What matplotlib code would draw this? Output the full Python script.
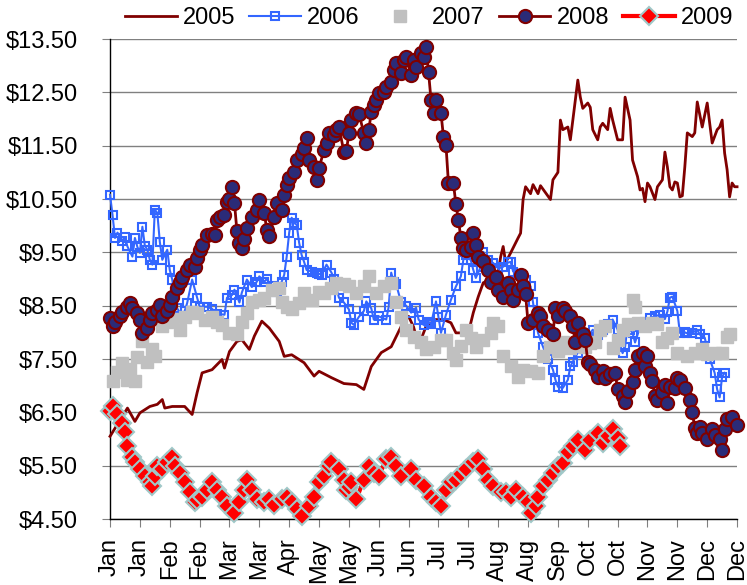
import matplotlib
matplotlib.use("Agg")
import matplotlib.pyplot as plt

plt.rcParams['font.family'] = ['Liberation Sans', 'DejaVu Sans']

# x axis = trading day of the year, a labelled tick every 12 days
month_labels = ["Jan", "Jan", "Feb", "Feb", "Mar", "Mar", "Apr", "May", "May", "Jun", "Jun",
                "Jul", "Jul", "Aug", "Aug", "Sep", "Oct", "Oct", "Nov", "Nov", "Dec", "Dec"]
price_ticks = [4.5, 5.5, 6.5, 7.5, 8.5, 9.5, 10.5, 11.5, 12.5, 13.5]

days_2005 = [0, 7, 10, 12, 16, 19, 21, 22, 25, 30, 33, 35, 37, 41, 45, 46, 48, 51, 53, 56, 58, 61, 64,
             68, 70, 73, 78, 82, 84, 89, 94, 99, 102, 105, 109, 113, 117, 120, 122, 124, 127, 131, 134,
             137, 139, 144, 145, 146, 148, 149, 150, 153, 156, 157, 158, 159, 161, 164, 165, 166, 167,
             169, 170, 172, 173, 175, 177, 178, 180, 181, 182, 184, 185, 186, 188, 189, 190, 192, 193,
             194, 196, 197, 198, 200, 201, 202, 204, 206, 207, 209, 210, 212, 213, 214, 215, 216, 217,
             219, 220, 222, 223, 224, 225, 226, 227, 228, 229, 230, 231, 232, 234, 235, 236, 238, 240,
             241, 242, 244, 245, 246, 247, 248, 249, 250, 251, 252]
price_2005 = [6.05, 6.58, 6.33, 6.49, 6.61, 6.65, 6.74, 6.58, 6.61, 6.61, 6.46, 6.87, 7.24, 7.30, 7.49,
              7.33, 7.64, 7.83, 7.86, 7.68, 7.93, 8.21, 8.08, 7.83, 7.55, 7.58, 7.43, 7.18, 7.27, 7.15,
              7.04, 7.02, 6.93, 7.36, 7.62, 7.73, 8.11, 8.30, 8.10, 7.75, 8.11, 8.24, 8.24, 8.18, 7.99,
              7.99, 8.18, 8.37, 8.67, 8.80, 8.93, 8.99, 9.12, 9.42, 9.61, 9.31, 9.49, 9.77, 9.86, 10.49,
              10.73, 10.60, 10.77, 10.60, 10.75, 10.62, 10.49, 10.86, 11.00, 11.98, 11.80, 11.85, 11.61,
              11.98, 12.73, 12.41, 12.20, 12.30, 12.22, 11.80, 11.61, 11.85, 11.92, 11.80, 12.20, 11.98,
              11.61, 11.61, 12.41, 11.98, 11.23, 10.92, 10.67, 10.70, 10.45, 10.80, 10.73, 10.49, 10.73,
              10.86, 11.38, 11.10, 10.73, 10.67, 10.82, 10.80, 10.54, 10.56, 11.10, 11.74, 11.67, 11.74,
              12.32, 11.85, 12.30, 11.92, 11.55, 11.80, 11.85, 11.98, 11.36, 11.05, 10.54, 10.80, 10.73,
              10.73]

days_2006 = [0, 1, 2, 3, 5, 6, 7, 9, 10, 11, 12, 13, 14, 15, 16, 17, 18, 19, 20, 21, 23, 24, 25, 26,
             27, 29, 30, 31, 33, 35, 36, 39, 41, 43, 46, 47, 49, 50, 52, 53, 55, 57, 59, 60, 62, 63, 65,
             67, 69, 70, 71, 72, 73, 74, 75, 76, 77, 78, 79, 81, 83, 84, 85, 87, 89, 90, 92, 94, 96, 97,
             98, 100, 102, 103, 105, 106, 108, 111, 112, 113, 114, 115, 117, 119, 121, 123, 124, 126,
             128, 129, 131, 132, 133, 135, 137, 139, 141, 142, 143, 145, 146, 147, 149, 150, 152, 154,
             156, 158, 160, 161, 162, 164, 166, 167, 169, 170, 171, 172, 174, 176, 178, 179, 180, 182,
             184, 185, 186, 188, 190, 192, 194, 196, 198, 200, 202, 204, 205, 206, 207, 208, 209, 210,
             211, 213, 215, 217, 219, 221, 223, 224, 225, 226, 228, 229, 231, 232, 234, 236, 237, 239,
             241, 243, 244, 245, 246, 247]
price_2006 = [10.58, 10.20, 9.77, 9.87, 9.72, 9.78, 9.61, 9.42, 9.77, 9.60, 9.49, 9.98, 9.62, 9.55,
              9.36, 9.27, 10.30, 10.24, 9.70, 9.36, 9.55, 9.17, 8.99, 8.70, 8.45, 8.30, 8.40, 8.55, 8.99,
              8.65, 8.48, 8.48, 8.44, 8.35, 8.33, 8.65, 8.70, 8.80, 8.56, 8.75, 8.99, 8.85, 8.95, 9.05,
              8.95, 9.00, 8.86, 8.75, 8.95, 9.08, 9.42, 9.87, 10.15, 10.05, 10.02, 9.68, 9.45, 9.32,
              9.17, 9.14, 9.12, 9.10, 9.08, 9.27, 9.12, 9.00, 8.65, 8.56, 8.43, 8.18, 8.14, 8.29, 8.40,
              8.58, 8.45, 8.24, 8.30, 8.24, 8.48, 9.12, 8.95, 8.90, 8.56, 8.50, 8.37, 8.46, 8.24, 8.14,
              8.20, 8.15, 8.58, 8.29, 7.99, 8.33, 8.61, 8.86, 9.05, 9.36, 9.45, 9.35, 9.17, 9.02, 9.23,
              9.51, 9.35, 9.30, 9.20, 9.23, 9.31, 9.32, 9.14, 9.10, 9.05, 8.99, 8.86, 8.56, 8.24, 7.99,
              7.73, 7.50, 7.30, 7.11, 6.98, 6.96, 7.11, 7.36, 7.45, 7.62, 7.80, 7.92, 8.05, 7.95, 8.05,
              8.15, 8.24, 8.05, 7.75, 7.61, 7.73, 8.11, 8.05, 7.99, 7.81, 8.10, 8.20, 8.27, 8.30, 8.33,
              8.25, 8.39, 8.65, 8.67, 8.40, 7.99, 8.00, 7.98, 7.99, 8.05, 7.96, 7.90, 7.50, 7.24, 6.93,
              6.78, 7.17, 7.24]

days_2007 = [1, 3, 5, 7, 8, 10, 11, 13, 15, 17, 18, 21, 23, 25, 28, 30, 33, 35, 38, 41, 43, 45, 48,
             51, 53, 55, 57, 60, 62, 65, 68, 69, 71, 73, 76, 78, 81, 84, 86, 89, 91, 94, 96, 99, 102,
             104, 107, 110, 113, 115, 117, 119, 122, 125, 127, 130, 133, 135, 138, 139, 141, 143, 145,
             147, 150, 153, 154, 156, 158, 161, 164, 166, 169, 172, 174, 177, 180, 182, 185, 188, 191,
             193, 195, 197, 199, 202, 204, 206, 208, 210, 211, 212, 215, 218, 220, 222, 224, 226, 228,
             232, 235, 238, 240, 243, 246, 248, 249]
price_2007 = [7.08, 7.25, 7.43, 7.11, 7.32, 7.08, 7.53, 7.83, 7.45, 7.68, 7.55, 8.11, 8.20, 8.25,
              8.05, 8.29, 8.39, 8.37, 8.24, 8.28, 8.20, 8.14, 7.99, 7.96, 8.20, 8.37, 8.56, 8.61, 8.65,
              8.80, 8.83, 8.56, 8.48, 8.43, 8.55, 8.74, 8.61, 8.76, 8.74, 8.83, 8.93, 8.90, 8.86, 8.74,
              8.86, 9.05, 8.74, 8.86, 8.93, 8.56, 8.29, 8.05, 7.92, 7.81, 7.68, 7.73, 7.86, 7.86, 7.62,
              7.49, 7.75, 8.05, 7.90, 7.73, 7.86, 7.99, 8.18, 8.11, 7.55, 7.36, 7.17, 7.30, 7.28, 7.24,
              7.55, 7.73, 7.65, 7.81, 7.70, 7.75, 7.73, 7.80, 7.81, 8.05, 8.11, 7.71, 7.86, 8.05, 8.15,
              8.61, 8.48, 8.18, 8.11, 8.18, 8.15, 7.81, 7.90, 7.99, 7.62, 7.55, 7.62, 7.68, 7.60, 7.62,
              7.62, 7.92, 7.96]

days_2008 = [0, 1, 2, 4, 5, 7, 8, 9, 11, 12, 13, 15, 16, 17, 19, 20, 21, 23, 24, 25, 27, 28, 29, 31,
             32, 34, 35, 36, 37, 39, 41, 42, 43, 44, 46, 47, 48, 49, 50, 51, 52, 53, 54, 55, 57, 59, 60,
             62, 63, 64, 66, 67, 69, 70, 71, 72, 74, 75, 77, 78, 79, 80, 82, 83, 84, 86, 87, 88, 90, 91,
             92, 94, 95, 96, 97, 99, 100, 102, 103, 104, 105, 106, 107, 108, 110, 111, 113, 114, 115,
             117, 118, 119, 121, 122, 123, 125, 126, 127, 128, 129, 130, 131, 133, 134, 135, 136, 138,
             139, 140, 141, 142, 143, 145, 146, 147, 148, 150, 152, 153, 155, 156, 158, 160, 161, 162,
             164, 165, 166, 167, 168, 170, 172, 173, 174, 176, 178, 179, 180, 182, 183, 185, 186, 187,
             188, 190, 191, 192, 193, 195, 196, 198, 199, 201, 203, 204, 206, 207, 208, 210, 211, 212,
             214, 215, 216, 217, 218, 219, 220, 222, 223, 224, 225, 227, 228, 229, 231, 233, 234, 235,
             236, 237, 238, 240, 242, 243, 245, 246, 247, 248, 250, 252]
price_2008 = [8.27, 8.11, 8.20, 8.30, 8.39, 8.48, 8.55, 8.46, 8.37, 8.24, 7.99, 8.08, 8.24, 8.37,
              8.42, 8.52, 8.30, 8.40, 8.52, 8.67, 8.84, 8.95, 9.04, 9.17, 9.27, 9.23, 9.40, 9.55, 9.64,
              9.83, 9.85, 9.83, 10.11, 10.17, 10.20, 10.45, 10.50, 10.73, 10.43, 9.90, 9.68, 9.59, 9.75,
              9.96, 10.17, 10.30, 10.49, 10.24, 9.92, 9.80, 10.17, 10.43, 10.30, 10.58, 10.77, 10.90,
              11.01, 11.23, 11.35, 11.46, 11.64, 11.23, 11.10, 10.86, 11.08, 11.42, 11.55, 11.74, 11.70,
              11.80, 11.85, 11.38, 11.40, 11.74, 11.98, 12.11, 12.10, 11.74, 11.55, 11.80, 12.13, 12.26,
              12.36, 12.49, 12.51, 12.60, 12.70, 12.92, 13.05, 12.86, 13.10, 13.16, 12.83, 13.11, 12.98,
              13.24, 13.16, 13.35, 12.88, 12.36, 12.11, 12.36, 12.11, 11.67, 11.52, 10.80, 10.80, 10.40,
              10.11, 9.77, 9.58, 9.55, 9.60, 9.86, 9.64, 9.42, 9.33, 9.17, 8.95, 9.04, 8.80, 8.67, 8.93,
              8.80, 8.61, 8.80, 9.08, 8.86, 8.71, 8.18, 8.24, 8.37, 8.30, 8.11, 8.05, 7.96, 8.46, 8.30,
              8.46, 8.40, 8.30, 8.11, 7.81, 8.18, 7.96, 7.86, 7.45, 7.40, 7.30, 7.17, 7.27, 7.15, 7.22,
              7.24, 6.93, 6.80, 6.70, 6.90, 7.06, 7.30, 7.55, 7.62, 7.36, 7.55, 7.24, 7.08, 6.80, 6.74,
              6.89, 7.02, 6.68, 6.98, 6.96, 7.15, 7.11, 6.96, 6.74, 6.50, 6.21, 6.12, 6.23, 6.12, 6.00,
              6.18, 6.08, 6.00, 5.80, 6.18, 6.37, 6.42, 6.27]

days_2009 = [0, 1, 3, 5, 6, 7, 9, 10, 12, 14, 16, 17, 18, 19, 21, 23, 25, 26, 28, 30, 32, 34, 35, 37,
             39, 41, 43, 45, 47, 50, 52, 54, 55, 57, 59, 62, 64, 66, 69, 71, 73, 75, 77, 80, 82, 84, 86,
             88, 89, 92, 94, 95, 96, 97, 99, 102, 104, 106, 108, 111, 113, 115, 117, 121, 123, 126, 129,
             131, 133, 135, 137, 139, 141, 143, 146, 148, 150, 152, 154, 157, 159, 161, 163, 166, 168,
             169, 171, 172, 174, 176, 178, 180, 182, 184, 186, 188, 191, 193, 196, 198, 200, 202, 204,
             205]
price_2009 = [6.52, 6.61, 6.46, 6.30, 6.14, 5.86, 5.67, 5.56, 5.43, 5.30, 5.20, 5.11, 5.30, 5.49,
              5.43, 5.56, 5.67, 5.49, 5.37, 5.19, 5.00, 4.81, 4.86, 4.92, 5.05, 5.19, 5.05, 4.92, 4.74,
              4.62, 4.81, 5.05, 5.24, 5.05, 4.87, 4.82, 4.87, 4.77, 4.87, 4.92, 4.81, 4.68, 4.55, 4.74,
              4.92, 5.19, 5.30, 5.49, 5.56, 5.43, 5.24, 5.05, 5.10, 5.19, 4.87, 5.24, 5.49, 5.37, 5.30,
              5.62, 5.67, 5.49, 5.30, 5.43, 5.24, 5.11, 4.92, 4.81, 4.74, 5.05, 5.19, 5.24, 5.35, 5.43,
              5.56, 5.62, 5.43, 5.24, 5.11, 5.00, 5.00, 4.92, 5.05, 4.92, 4.81, 4.62, 4.75, 4.92, 5.11,
              5.24, 5.37, 5.49, 5.55, 5.75, 5.86, 5.99, 5.80, 5.99, 6.12, 5.93, 6.05, 6.18, 6.02, 5.86]

fig = plt.figure(figsize=(7.47, 5.85), dpi=100)
ax = fig.add_axes([0.1473, 0.1128, 0.8394, 0.8205])

ax.plot(days_2005, price_2005, color="#800000", lw=2, label="2005", zorder=3, clip_on=False)
ax.plot(days_2006, price_2006, color="#3366ff", lw=1.5, marker="s", ms=6, mfc="none",
        mec="#3366ff", mew=1.5, label="2006", zorder=4, clip_on=False)
ax.plot(days_2007, price_2007, ls="none", marker="s", ms=8, color="#c0c0c0",
        label="2007", zorder=5, clip_on=False)
ax.plot(days_2008, price_2008, color="#800000", lw=2, marker="o", ms=9.5, mfc="#2b2b78",
        mec="#800000", mew=1.5, label="2008", zorder=6, clip_on=False)
ax.plot(days_2009, price_2009, color="#ff0000", lw=3, marker="D", ms=9.5, mfc="#ff0000",
        mec="#a0c8c8", mew=1.5, label="2009", zorder=7, clip_on=False)

ax.set_xlim(0, 252)
ax.set_ylim(4.5, 13.5)
ax.set_xticks(range(0, 253, 12))
ax.set_xticklabels(month_labels, rotation=90)
ax.set_yticks(price_ticks)
ax.set_yticklabels([f"${p:.2f}" for p in price_ticks])
ax.grid(axis="y", color="#808080", lw=1)
ax.set_axisbelow(True)
for sp in ("top", "right"):
    ax.spines[sp].set_visible(False)
for sp in ("left", "bottom"):
    ax.spines[sp].set_color("black")
    ax.spines[sp].set_linewidth(1)
ax.tick_params(axis="x", direction="out", length=6, color="#808080", pad=8, labelsize=17)
ax.tick_params(axis="y", direction="out", length=6, color="#808080", pad=17, labelsize=17)

fig.legend(loc="center left", bbox_to_anchor=(0.167, 0.969), ncol=5, frameon=False,
           fontsize=17, handlelength=2.2, handletextpad=0.25, columnspacing=0.6,
           borderpad=0, borderaxespad=0)

fig.savefig("out.png", dpi=100)
